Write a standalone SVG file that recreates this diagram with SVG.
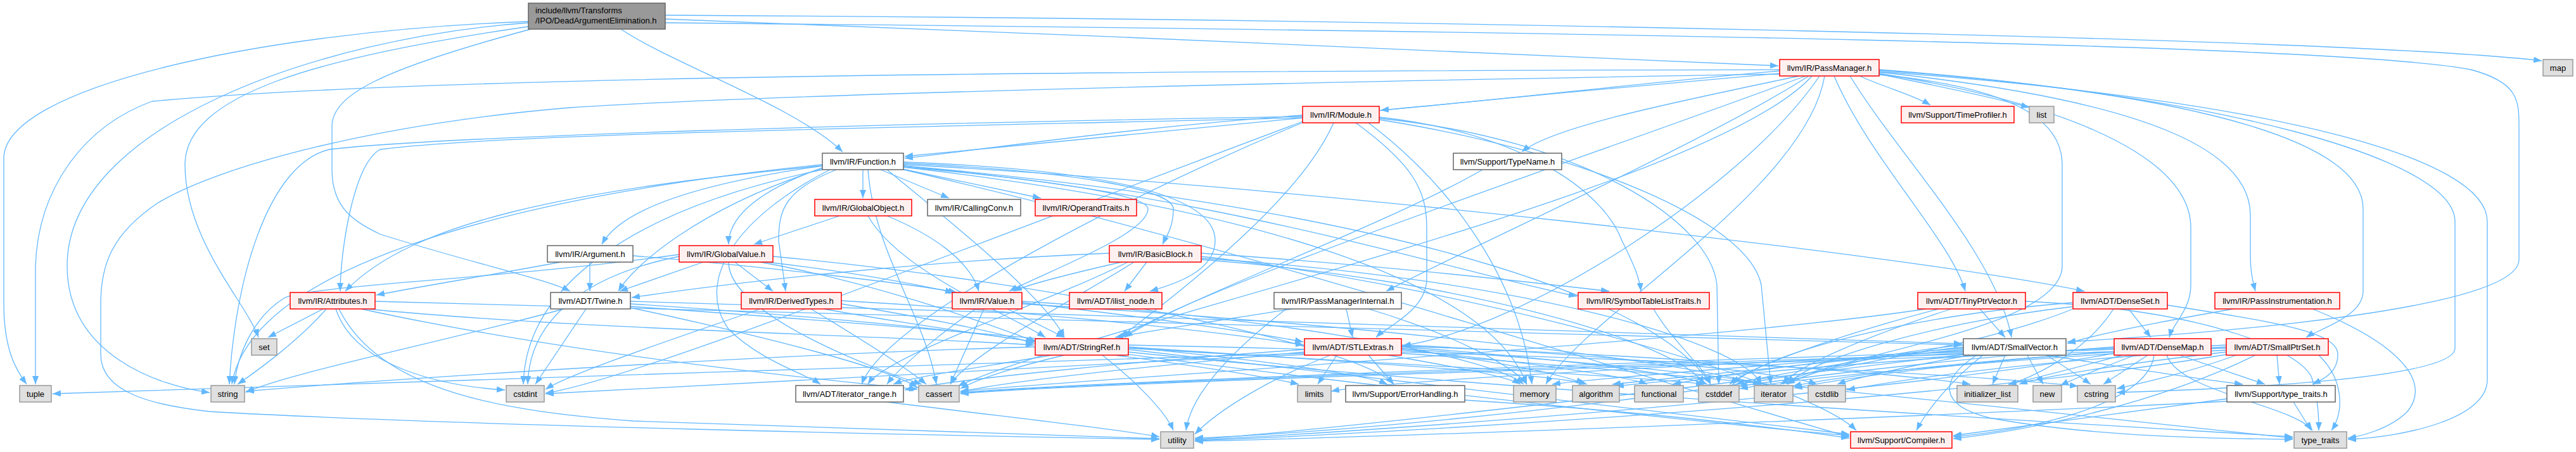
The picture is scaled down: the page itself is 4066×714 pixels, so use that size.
<svg xmlns="http://www.w3.org/2000/svg" width="4066" height="714" viewBox="0 0 4066 714">
<style>
.e{fill:none;stroke:#63B8FF;stroke-width:1.3;marker-end:url(#a)}
.w{fill:#ffffff;stroke:#666666;stroke-width:1.5}
.r{fill:#FFF0F0;stroke:#FF0000;stroke-width:1.5}
.g{fill:#E0E0E0;stroke:#999999;stroke-width:1.5}
.root{fill:#999999;stroke:#666666;stroke-width:1.5}
text{font-family:"Liberation Sans",Arial,Helvetica,sans-serif;font-size:13px;fill:#000000;text-anchor:middle}
text.l{text-anchor:start}
</style>
<defs>
<marker id="a" markerUnits="userSpaceOnUse" markerWidth="13" markerHeight="10" viewBox="0 0 13 10" refX="13" refY="5" orient="auto">
<path d="M0,0 L13,5 L0,10 z" fill="#63B8FF"/>
</marker>
</defs>
<g id="edges">
<path class="e" d="M980,46 C1060,100 1260,170 1330,240"/>
<path class="e" d="M1050,30 C1600,50 2500,90 2807,104"/>
<path class="e" d="M1050,24 C2200,30 3700,60 4012,96"/>
<path class="e" d="M834,42 C500,90 292,150 292,260 C292,380 390,480 408,533"/>
<path class="e" d="M834,36 C500,60 106,200 106,420 C106,560 250,610 331,620"/>
<path class="e" d="M834,34 C400,50 6,140 6,250 L6,480 C6,560 30,590 42,607"/>
<path class="e" d="M838,46 C600,110 524,150 524,200 L524,268 C524,330 560,350 600,370 C760,420 860,440 900,460"/>
<path class="e" d="M1050,36 C2500,50 3700,70 3900,110 C3976,130 3976,160 3976,200 L3976,410 C3976,480 3600,520 3263,540"/>
<path class="e" d="M2935,120 C2980,140 3020,150 3047,166"/>
<path class="e" d="M2966,117 C3080,140 3170,160 3203,170"/>
<path class="e" d="M2809,112 C2600,130 2350,160 2179,174"/>
<path class="e" d="M2809,116 C2300,160 1700,220 1428,247"/>
<path class="e" d="M2840,120 C2650,160 2450,200 2402,240"/>
<path class="e" d="M2855,120 C2700,220 2300,400 2188,460"/>
<path class="e" d="M2872,120 C2750,300 2400,520 2214,546"/>
<path class="e" d="M2850,120 C2500,250 1900,450 1770,533"/>
<path class="e" d="M2880,120 C2850,300 2500,500 2440,607"/>
<path class="e" d="M2809,117 C2000,130 1200,150 900,170 C600,195 350,260 250,320 C175,370 159,420 159,480 L159,560 C159,620 240,640 330,650 C700,672 1500,688 1830,694"/>
<path class="e" d="M2809,110 C1800,112 700,118 240,160 C130,200 60,300 56,420 L56,607"/>
<path class="e" d="M2860,120 C2700,300 1700,520 1512,610"/>
<path class="e" d="M2966,110 C3500,150 3875,250 3875,350 L3875,550 C3875,600 3500,615 3341,620"/>
<path class="e" d="M2966,113 C3600,160 3926,250 3926,350 L3926,600 C3926,660 3800,690 3706,694"/>
<path class="e" d="M2966,116 C3300,170 3458,260 3458,360 L3458,450 C3458,490 3430,510 3424,533"/>
<path class="e" d="M2966,114 C3400,160 3552,240 3552,340 L3552,400 C3552,430 3556,445 3560,460"/>
<path class="e" d="M2966,111 C3500,150 3730,230 3730,330 L3730,460 C3730,500 3660,520 3640,533"/>
<path class="e" d="M2895,120 C2950,250 3080,380 3102,460"/>
<path class="e" d="M2966,118 C3200,140 3255,200 3255,260 L3255,420 C3255,520 2900,560 2810,607"/>
<path class="e" d="M2920,120 C3000,250 3150,400 3175,533"/>
<path class="e" d="M2056,182 C1800,200 1600,230 1428,250"/>
<path class="e" d="M2140,194 C2230,260 2252,300 2252,360 L2252,440 C2252,490 2190,515 2172,533"/>
<path class="e" d="M2105,194 C2050,320 1850,470 1768,533"/>
<path class="e" d="M2060,192 C1800,300 1400,500 1360,607"/>
<path class="e" d="M2056,186 C1500,200 800,210 600,236 C557,260 537,400 537,460"/>
<path class="e" d="M2177,185 C2400,210 2530,300 2560,380 C2580,420 2588,440 2590,460"/>
<path class="e" d="M2177,187 C2500,220 2700,350 2710,450 L2713,607"/>
<path class="e" d="M2056,192 C1500,400 1000,600 861,621"/>
<path class="e" d="M2177,189 C2500,240 2760,350 2780,450 L2795,607"/>
<path class="e" d="M2160,194 C2300,300 2400,450 2418,607"/>
<path class="e" d="M2056,184 C1400,195 700,215 520,236 C420,260 370,450 362,607"/>
<path class="e" d="M1362,268 L1362,313"/>
<path class="e" d="M1390,268 L1498,313"/>
<path class="e" d="M1420,266 L1643,313"/>
<path class="e" d="M1300,264 C1200,300 1150,340 1150,386"/>
<path class="e" d="M1298,262 C1100,290 980,330 950,386"/>
<path class="e" d="M1426,258 C1700,270 1852,300 1852,330 C1852,360 1840,375 1835,386"/>
<path class="e" d="M1426,256 C1800,270 1918,320 1918,380 C1918,430 1850,450 1815,460"/>
<path class="e" d="M1426,262 C1700,290 1812,310 1812,330 C1812,370 1650,430 1593,460"/>
<path class="e" d="M1320,268 C1240,300 1229,330 1229,380 L1240,460"/>
<path class="e" d="M1298,266 C1100,330 1000,420 976,460"/>
<path class="e" d="M1298,262 C900,300 650,350 545,460"/>
<path class="e" d="M1426,260 C2000,290 3000,400 3290,460"/>
<path class="e" d="M1426,264 C1900,300 2300,430 2489,468"/>
<path class="e" d="M1400,268 C1500,350 1650,470 1680,533"/>
<path class="e" d="M1310,268 C1150,350 1100,450 1150,520 C1200,570 1270,590 1295,607"/>
<path class="e" d="M1426,268 C2000,400 2600,600 2919,690"/>
<path class="e" d="M1370,268 C1380,400 1460,500 1478,607"/>
<path class="e" d="M1426,262 C2100,320 2600,450 2700,607"/>
<path class="e" d="M1298,268 C1000,330 830,450 826,607"/>
<path class="e" d="M1426,264 C2000,330 2350,450 2410,607"/>
<path class="e" d="M1298,260 C900,300 400,400 366,607"/>
<path class="e" d="M2340,268 C2200,350 1850,480 1775,533"/>
<path class="e" d="M1325,341 L1190,386"/>
<path class="e" d="M1400,341 C1470,370 1530,410 1545,460"/>
<path class="e" d="M1370,341 C1420,430 1600,500 1650,533"/>
<path class="e" d="M931,414 L931,460"/>
<path class="e" d="M885,414 C800,430 650,455 594,466"/>
<path class="e" d="M999,404 C1200,420 1450,450 1510,462"/>
<path class="e" d="M1110,414 L978,460"/>
<path class="e" d="M1160,414 L1220,460"/>
<path class="e" d="M1210,414 C1350,430 1450,450 1505,462"/>
<path class="e" d="M1200,414 C1400,450 1580,520 1636,540"/>
<path class="e" d="M1220,405 C1700,450 2150,550 2200,607"/>
<path class="e" d="M1150,414 C1150,500 1400,590 1455,607"/>
<path class="e" d="M1072,405 C900,440 835,520 833,607"/>
<path class="e" d="M1072,402 C800,440 500,450 450,470 C400,500 375,560 370,607"/>
<path class="e" d="M1770,414 C1700,430 1620,450 1600,460"/>
<path class="e" d="M1810,414 L1775,460"/>
<path class="e" d="M1751,400 C1500,410 1200,440 997,470"/>
<path class="e" d="M1780,414 C1650,480 1400,560 1370,607"/>
<path class="e" d="M1896,400 C2200,420 2450,450 2540,460"/>
<path class="e" d="M1896,405 C2300,450 2850,600 2930,680"/>
<path class="e" d="M1790,414 C1700,470 1530,560 1500,607"/>
<path class="e" d="M1896,410 C2300,440 2650,540 2690,607"/>
<path class="e" d="M1896,408 C2400,440 2750,540 2780,607"/>
<path class="e" d="M1328,475 C1600,490 1900,520 2058,545"/>
<path class="e" d="M1328,480 C1450,500 1580,525 1633,543"/>
<path class="e" d="M1300,488 C1700,560 2600,660 2919,688"/>
<path class="e" d="M1280,488 C1350,530 1430,580 1462,607"/>
<path class="e" d="M1200,488 C1050,540 900,590 861,615"/>
<path class="e" d="M510,488 L423,533"/>
<path class="e" d="M515,488 C470,540 400,590 375,607"/>
<path class="e" d="M530,488 C560,580 700,610 797,616"/>
<path class="e" d="M535,488 C600,620 800,650 1000,665 C1400,680 1700,690 1830,693"/>
<path class="e" d="M592,476 C1500,500 2600,530 3097,545"/>
<path class="e" d="M580,488 C900,520 1400,530 1632,545"/>
<path class="e" d="M570,488 C900,560 1300,600 1448,615"/>
<path class="e" d="M890,488 C700,540 450,590 388,620"/>
<path class="e" d="M925,488 L845,607"/>
<path class="e" d="M995,484 C1500,520 2100,570 2190,607"/>
<path class="e" d="M995,476 C1800,500 2800,530 3097,543"/>
<path class="e" d="M995,480 C1300,500 1550,525 1632,540"/>
<path class="e" d="M995,486 C1200,530 1400,580 1448,612"/>
<path class="e" d="M1613,478 C1800,500 1950,520 2057,540"/>
<path class="e" d="M1590,488 L1680,533"/>
<path class="e" d="M1540,488 C1480,530 1420,580 1400,607"/>
<path class="e" d="M1553,488 L1500,607"/>
<path class="e" d="M1613,480 C2100,510 2600,560 2780,607"/>
<path class="e" d="M1613,476 C2000,500 2350,560 2405,607"/>
<path class="e" d="M2125,488 L2135,533"/>
<path class="e" d="M2040,488 C1900,510 1800,525 1760,533"/>
<path class="e" d="M2160,488 C2300,530 2390,580 2410,607"/>
<path class="e" d="M2030,488 C1950,550 1880,620 1872,680"/>
<path class="e" d="M2610,488 C2640,540 2690,580 2700,607"/>
<path class="e" d="M3125,488 L3165,533"/>
<path class="e" d="M3040,488 C2700,540 1700,600 1516,618"/>
<path class="e" d="M3060,488 C2900,530 2760,580 2730,607"/>
<path class="e" d="M3080,488 C2950,530 2830,580 2815,607"/>
<path class="e" d="M3197,476 C3500,490 3640,560 3650,600 C3660,640 3660,660 3660,680"/>
<path class="e" d="M3360,488 L3395,533"/>
<path class="e" d="M3421,482 C3600,510 3690,525 3690,560 C3690,590 3665,600 3650,607"/>
<path class="e" d="M3336,488 C3290,560 3200,600 3170,607"/>
<path class="e" d="M3272,478 C3000,500 2780,560 2735,607"/>
<path class="e" d="M3275,484 C3050,510 2850,570 2822,607"/>
<path class="e" d="M3272,488 C3000,600 2200,680 1886,692"/>
<path class="e" d="M3525,488 C3400,510 3300,530 3263,543"/>
<path class="e" d="M3650,488 C3780,540 3840,600 3800,650 C3770,680 3720,690 3706,692"/>
<path class="e" d="M1660,561 C1550,580 1440,595 1410,607"/>
<path class="e" d="M1781,552 C2200,600 2700,660 2919,686"/>
<path class="e" d="M1781,548 C2100,570 2450,590 2505,607"/>
<path class="e" d="M1680,561 C1600,580 1540,600 1516,614"/>
<path class="e" d="M1781,550 C2200,575 2600,595 2690,607"/>
<path class="e" d="M1781,545 C2500,560 3100,590 3280,610"/>
<path class="e" d="M1760,561 C1900,580 2000,595 2050,607"/>
<path class="e" d="M1634,548 C1200,560 600,600 388,618"/>
<path class="e" d="M1781,556 C2400,620 3300,670 3619,690"/>
<path class="e" d="M1740,561 C1790,600 1840,650 1852,680"/>
<path class="e" d="M2059,552 C1800,570 1500,600 1428,616"/>
<path class="e" d="M2160,561 L2200,607"/>
<path class="e" d="M2212,550 C2350,570 2470,590 2500,607"/>
<path class="e" d="M2059,556 C1850,575 1600,600 1516,619"/>
<path class="e" d="M2212,548 C2450,565 2650,590 2695,607"/>
<path class="e" d="M2059,560 C1600,580 1100,610 861,622"/>
<path class="e" d="M2212,545 C2550,560 2820,590 2868,607"/>
<path class="e" d="M2212,553 C2400,570 2570,595 2600,607"/>
<path class="e" d="M2212,547 C2600,560 3000,590 3110,607"/>
<path class="e" d="M2212,551 C2500,570 2740,595 2785,607"/>
<path class="e" d="M2110,561 L2080,607"/>
<path class="e" d="M2190,561 C2300,580 2380,595 2400,607"/>
<path class="e" d="M2059,558 C1500,580 600,600 83,622"/>
<path class="e" d="M2212,558 C2800,600 3400,670 3619,692"/>
<path class="e" d="M2100,561 C2000,600 1920,650 1886,686"/>
<path class="e" d="M3130,561 C3080,600 3040,650 3025,680"/>
<path class="e" d="M3230,561 C3350,580 3480,600 3540,607"/>
<path class="e" d="M3099,552 C2900,570 2650,595 2545,607"/>
<path class="e" d="M3099,556 C2500,575 1700,605 1516,620"/>
<path class="e" d="M3099,548 C2950,565 2780,595 2740,607"/>
<path class="e" d="M3110,561 C3000,580 2920,600 2900,607"/>
<path class="e" d="M3230,561 C3260,580 3290,600 3300,607"/>
<path class="e" d="M3099,550 C2900,565 2700,595 2640,607"/>
<path class="e" d="M3165,561 L3145,607"/>
<path class="e" d="M3099,545 C2950,560 2850,590 2820,607"/>
<path class="e" d="M3099,558 C2700,575 2200,600 2101,618"/>
<path class="e" d="M3099,554 C2800,575 2500,600 2450,607"/>
<path class="e" d="M3200,561 L3225,607"/>
<path class="e" d="M3120,561 C3060,600 3060,640 3140,660 C3300,690 3500,693 3619,694"/>
<path class="e" d="M3099,560 C2600,620 2100,680 1886,694"/>
<path class="e" d="M3400,561 C3390,640 3200,680 3083,690"/>
<path class="e" d="M3440,561 L3575,607"/>
<path class="e" d="M3337,550 C3000,565 2700,595 2550,610"/>
<path class="e" d="M3337,552 C2600,575 1700,605 1516,621"/>
<path class="e" d="M3337,548 C3100,565 2850,595 2745,610"/>
<path class="e" d="M3390,561 L3320,607"/>
<path class="e" d="M3350,561 C3280,580 3200,600 3170,607"/>
<path class="e" d="M3337,556 C3100,570 2900,595 2830,610"/>
<path class="e" d="M3370,561 C3320,580 3270,600 3252,609"/>
<path class="e" d="M3420,561 C3440,620 3620,640 3650,680"/>
<path class="e" d="M3337,558 C3000,620 2200,680 1886,695"/>
<path class="e" d="M3560,561 C3400,640 3200,680 3083,693"/>
<path class="e" d="M3594,561 L3598,607"/>
<path class="e" d="M3514,550 C2700,575 1700,605 1516,622"/>
<path class="e" d="M3514,548 C3200,565 2850,595 2746,614"/>
<path class="e" d="M3514,553 C3200,570 3000,600 2915,616"/>
<path class="e" d="M3530,561 C3450,590 3380,605 3341,614"/>
<path class="e" d="M3514,556 C3350,575 3220,595 3187,607"/>
<path class="e" d="M3514,545 C3200,560 2950,590 2832,613"/>
<path class="e" d="M3514,560 C3100,630 2200,685 1886,696"/>
<path class="e" d="M3660,561 C3700,600 3700,650 3680,680"/>
<path class="e" d="M3515,630 C3300,660 3150,680 3083,688"/>
<path class="e" d="M3620,635 L3648,680"/>
<path class="e" d="M3515,634 C3000,660 2200,690 1886,697"/>
<path class="e" d="M2312,632 C2600,650 2800,675 2919,692"/>
<path class="e" d="M1400,635 C1600,660 1780,680 1830,690"/>
</g>
<g id="n_root"><rect class="root" x="834" y="5" width="216" height="41"/><text class="l" x="845" y="21">include/llvm/Transforms</text><text class="l" x="845" y="37">/IPO/DeadArgumentElimination.h</text></g>
<g id="n_passmanager"><rect class="r" x="2809" y="94" width="157" height="26"/><text x="2887.5" y="111.5">llvm/IR/PassManager.h</text></g>
<g id="n_map"><rect class="g" x="4014" y="94" width="47" height="26"/><text x="4037.5" y="111.5">map</text></g>
<g id="n_module"><rect class="r" x="2056" y="168" width="121" height="26"/><text x="2116.5" y="185.5">llvm/IR/Module.h</text></g>
<g id="n_timeprofiler"><rect class="r" x="3001" y="168" width="178" height="26"/><text x="3090" y="185.5">llvm/Support/TimeProfiler.h</text></g>
<g id="n_list"><rect class="g" x="3203" y="168" width="39" height="26"/><text x="3222.5" y="185.5">list</text></g>
<g id="n_function"><rect class="w" x="1298" y="242" width="128" height="26"/><text x="1362" y="259.5">llvm/IR/Function.h</text></g>
<g id="n_typename"><rect class="w" x="2294" y="242" width="171" height="26"/><text x="2379.5" y="259.5">llvm/Support/TypeName.h</text></g>
<g id="n_globalobject"><rect class="r" x="1286" y="315" width="153" height="26"/><text x="1362.5" y="332.5">llvm/IR/GlobalObject.h</text></g>
<g id="n_callingconv"><rect class="w" x="1464" y="315" width="147" height="26"/><text x="1537.5" y="332.5">llvm/IR/CallingConv.h</text></g>
<g id="n_operandtraits"><rect class="r" x="1634" y="315" width="160" height="26"/><text x="1714" y="332.5">llvm/IR/OperandTraits.h</text></g>
<g id="n_argument"><rect class="w" x="864" y="388" width="135" height="26"/><text x="931.5" y="405.5">llvm/IR/Argument.h</text></g>
<g id="n_globalvalue"><rect class="r" x="1072" y="388" width="148" height="26"/><text x="1146" y="405.5">llvm/IR/GlobalValue.h</text></g>
<g id="n_basicblock"><rect class="r" x="1751" y="388" width="145" height="26"/><text x="1823.5" y="405.5">llvm/IR/BasicBlock.h</text></g>
<g id="n_attributes"><rect class="r" x="458" y="462" width="134" height="26"/><text x="525" y="479.5">llvm/IR/Attributes.h</text></g>
<g id="n_twine"><rect class="w" x="869" y="462" width="126" height="26"/><text x="932" y="479.5">llvm/ADT/Twine.h</text></g>
<g id="n_derivedtypes"><rect class="r" x="1170" y="462" width="158" height="26"/><text x="1249" y="479.5">llvm/IR/DerivedTypes.h</text></g>
<g id="n_value"><rect class="r" x="1503" y="462" width="110" height="26"/><text x="1558" y="479.5">llvm/IR/Value.h</text></g>
<g id="n_ilist_node"><rect class="r" x="1688" y="462" width="146" height="26"/><text x="1761" y="479.5">llvm/ADT/ilist_node.h</text></g>
<g id="n_pmi"><rect class="w" x="2011" y="462" width="201" height="26"/><text x="2111.5" y="479.5">llvm/IR/PassManagerInternal.h</text></g>
<g id="n_stlt"><rect class="r" x="2491" y="462" width="207" height="26"/><text x="2594.5" y="479.5">llvm/IR/SymbolTableListTraits.h</text></g>
<g id="n_tinyptrvector"><rect class="r" x="3027" y="462" width="170" height="26"/><text x="3112" y="479.5">llvm/ADT/TinyPtrVector.h</text></g>
<g id="n_denseset"><rect class="r" x="3272" y="462" width="149" height="26"/><text x="3346.5" y="479.5">llvm/ADT/DenseSet.h</text></g>
<g id="n_passinstr"><rect class="r" x="3496" y="462" width="197" height="26"/><text x="3594.5" y="479.5">llvm/IR/PassInstrumentation.h</text></g>
<g id="n_set"><rect class="g" x="397" y="535" width="40" height="26"/><text x="417" y="552.5">set</text></g>
<g id="n_stringref"><rect class="r" x="1634" y="535" width="147" height="26"/><text x="1707.5" y="552.5">llvm/ADT/StringRef.h</text></g>
<g id="n_stlextras"><rect class="r" x="2059" y="535" width="153" height="26"/><text x="2135.5" y="552.5">llvm/ADT/STLExtras.h</text></g>
<g id="n_smallvector"><rect class="w" x="3099" y="535" width="162" height="26"/><text x="3180" y="552.5">llvm/ADT/SmallVector.h</text></g>
<g id="n_densemap"><rect class="r" x="3337" y="535" width="153" height="26"/><text x="3413.5" y="552.5">llvm/ADT/DenseMap.h</text></g>
<g id="n_smallptrset"><rect class="r" x="3514" y="535" width="161" height="26"/><text x="3594.5" y="552.5">llvm/ADT/SmallPtrSet.h</text></g>
<g id="n_tuple"><rect class="g" x="31" y="609" width="50" height="26"/><text x="56" y="626.5">tuple</text></g>
<g id="n_string"><rect class="g" x="333" y="609" width="53" height="26"/><text x="359.5" y="626.5">string</text></g>
<g id="n_cstdint"><rect class="g" x="799" y="609" width="60" height="26"/><text x="829" y="626.5">cstdint</text></g>
<g id="n_iterator_range"><rect class="w" x="1256" y="609" width="170" height="26"/><text x="1341" y="626.5">llvm/ADT/iterator_range.h</text></g>
<g id="n_cassert"><rect class="g" x="1450" y="609" width="64" height="26"/><text x="1482" y="626.5">cassert</text></g>
<g id="n_limits"><rect class="g" x="2048" y="609" width="53" height="26"/><text x="2074.5" y="626.5">limits</text></g>
<g id="n_errorhandling"><rect class="w" x="2124" y="609" width="188" height="26"/><text x="2218" y="626.5">llvm/Support/ErrorHandling.h</text></g>
<g id="n_memory"><rect class="g" x="2389" y="609" width="67" height="26"/><text x="2422.5" y="626.5">memory</text></g>
<g id="n_algorithm"><rect class="g" x="2482" y="609" width="74" height="26"/><text x="2519" y="626.5">algorithm</text></g>
<g id="n_functional"><rect class="g" x="2580" y="609" width="77" height="26"/><text x="2618.5" y="626.5">functional</text></g>
<g id="n_cstddef"><rect class="g" x="2681" y="609" width="64" height="26"/><text x="2713" y="626.5">cstddef</text></g>
<g id="n_iterator"><rect class="g" x="2769" y="609" width="61" height="26"/><text x="2799.5" y="626.5">iterator</text></g>
<g id="n_cstdlib"><rect class="g" x="2854" y="609" width="59" height="26"/><text x="2883.5" y="626.5">cstdlib</text></g>
<g id="n_initializer_list"><rect class="g" x="3089" y="609" width="96" height="26"/><text x="3137" y="626.5">initializer_list</text></g>
<g id="n_new"><rect class="g" x="3209" y="609" width="45" height="26"/><text x="3231.5" y="626.5">new</text></g>
<g id="n_cstring"><rect class="g" x="3279" y="609" width="60" height="26"/><text x="3309" y="626.5">cstring</text></g>
<g id="n_type_traits_h"><rect class="w" x="3515" y="609" width="171" height="26"/><text x="3600.5" y="626.5">llvm/Support/type_traits.h</text></g>
<g id="n_utility"><rect class="g" x="1832" y="682" width="52" height="26"/><text x="1858" y="699.5">utility</text></g>
<g id="n_compiler"><rect class="r" x="2921" y="682" width="160" height="26"/><text x="3001" y="699.5">llvm/Support/Compiler.h</text></g>
<g id="n_type_traits"><rect class="g" x="3621" y="682" width="83" height="26"/><text x="3662.5" y="699.5">type_traits</text></g>
</svg>
